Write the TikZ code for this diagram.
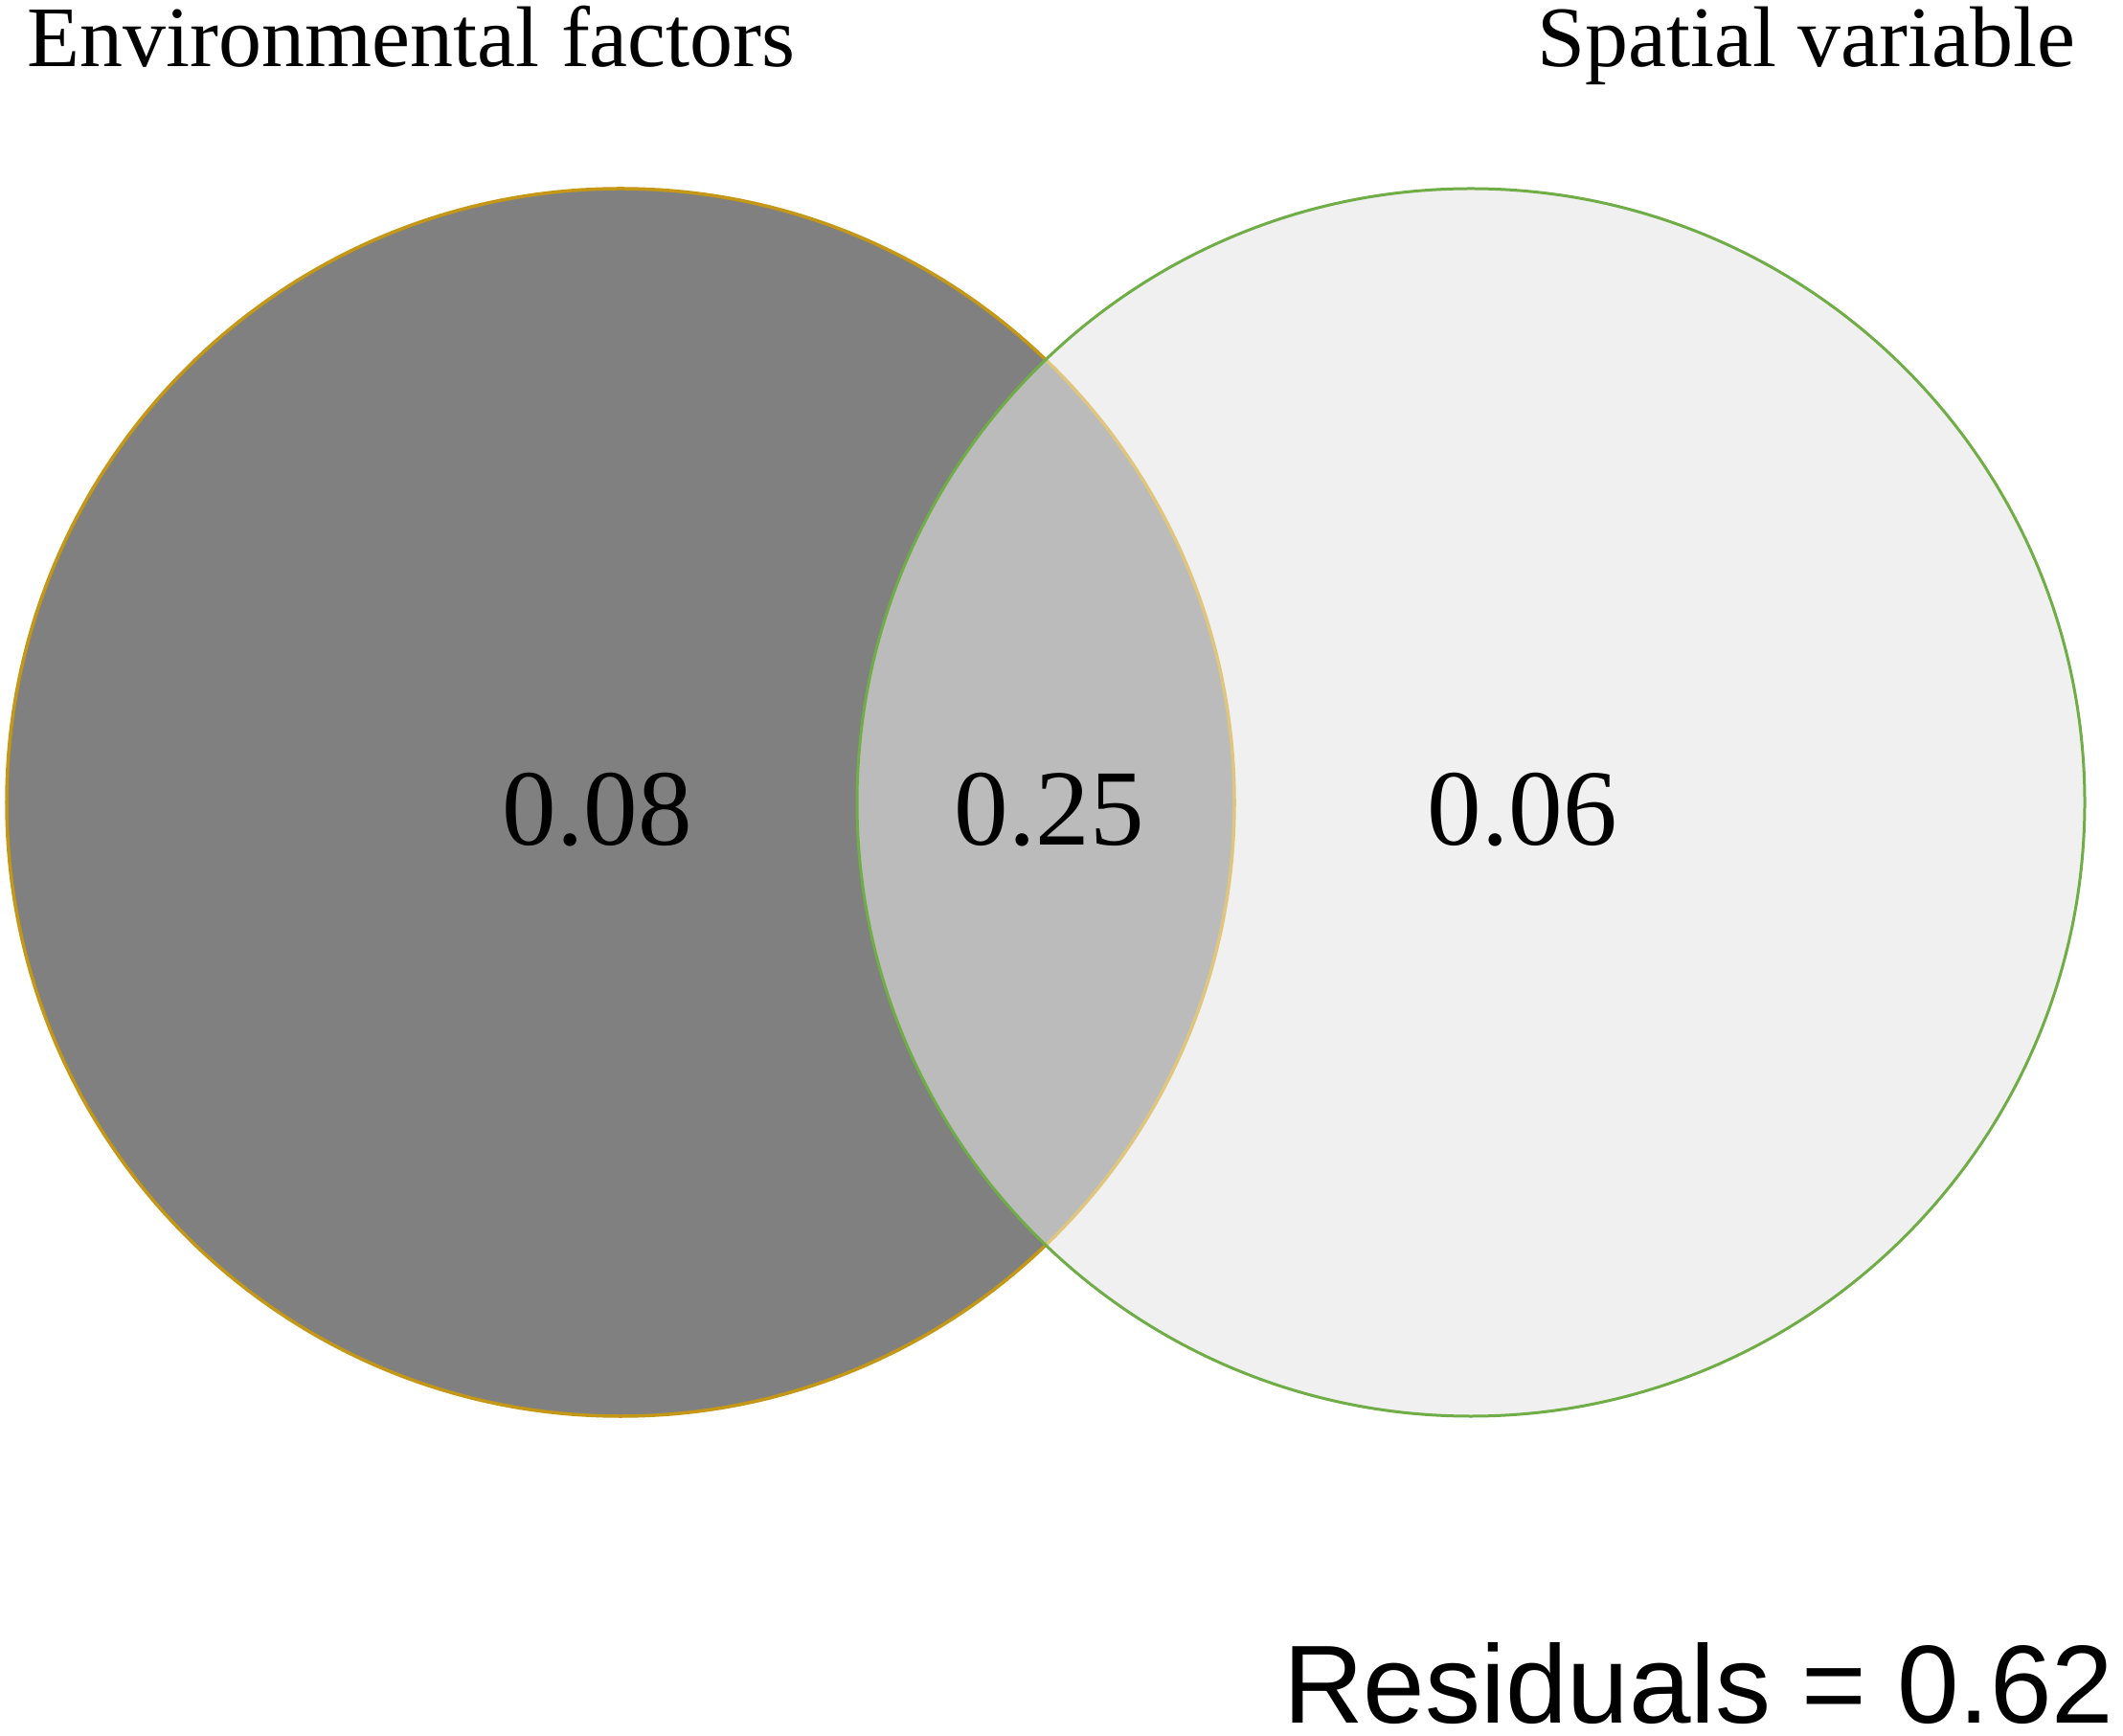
\documentclass[tikz,border=0pt]{standalone}
\usepackage{fontspec}
\setmainfont{Liberation Serif}
\newfontfamily\resfont{Liberation Sans}
\definecolor{envgold}{RGB}{196,152,22}
\definecolor{spgreen}{RGB}{112,173,71}
\definecolor{envgray}{RGB}{128,128,128}
\definecolor{sharedgray}{RGB}{187,187,187}
\definecolor{spgray}{RGB}{240,240,240}

\def\envcircle{(6.48,9.74) circle (6.41)}
\def\spcircle{(15.36,9.74) circle (6.41)}

\tikzset{
  setlabel/.style={inner sep=0pt, font=\fontsize{25.6}{30}\selectfont},
  partvalue/.style={inner sep=0pt, anchor=base, font=\fontsize{32.2}{38}\selectfont}
}

\begin{document}
\begin{tikzpicture}
                      \useasboundingbox (0,0) rectangle (22.17,18.12);
                      \begin{scope}
                        \fill[envgray] \envcircle;
                        \fill[spgray] \spcircle;
                        \clip \envcircle;
                        \fill[sharedgray] \spcircle;
                      \end{scope}
                      \begin{scope}
                        \clip \spcircle;
                        \draw[envgold!55, line width=0.035cm] \envcircle;
                      \end{scope}
                      \begin{scope}
                        \clip (0,0) rectangle (22.17,18.12) \spcircle;
                        \draw[envgold, line width=0.035cm, even odd rule] \envcircle;
                      \end{scope}
                      \draw[spgreen, line width=0.03cm] \spcircle;
                      \node[setlabel, anchor=base west] (env) at (0.28,17.42) {Environmental factors};
                      \node[setlabel, anchor=base east] (spatial) at (21.68,17.42) {Spatial variable};
                      \node[partvalue] (envonly) at (6.24,9.29) {0.08};
                      \node[partvalue] (shared) at (10.96,9.29) {0.25};
                      \node[partvalue] (spatonly) at (15.90,9.29) {0.06};
                      \node[inner sep=0pt, anchor=base east, font=\resfont\fontsize{33}{40}\selectfont] (resid) at (22.08,0.13) {Residuals = 0.62};
                    \end{tikzpicture}
\end{document}
